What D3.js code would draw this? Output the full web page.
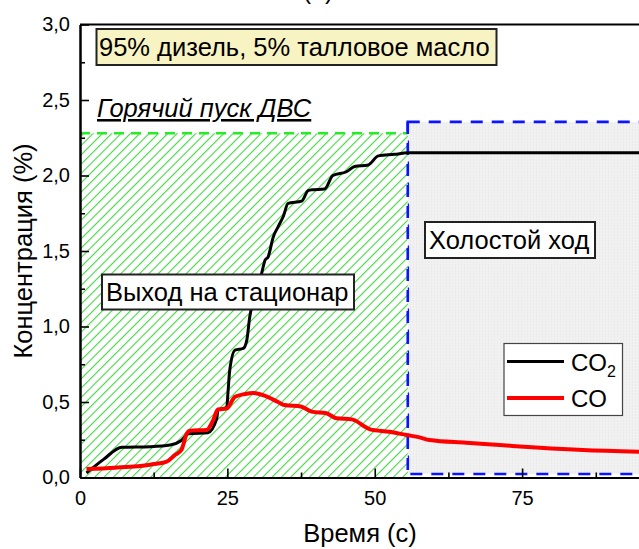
<!DOCTYPE html>
<html>
<head>
<meta charset="utf-8">
<script src="https://cdn.jsdelivr.net/npm/d3@7"></script>
<style>
  body { margin: 0; background: #fff; }
  svg { display: block; font-family: "Liberation Sans", Arial, sans-serif; }
</style>
</head>
<body>
<svg id="chart"></svg>
<script>
// CO2 curve (time, %)
var co2Time  = [1.1, 4, 7.1, 11.9, 15.3, 17.2, 18.4, 21.7, 23.2, 23.4, 24.9, 25.1, 25.4, 26.3, 27.7, 28.3, 28.8, 29.4, 30.8, 31.4, 31.9, 32.8, 33.6, 34.5, 35.3, 37.6, 38.7, 39.3, 41.5, 42.9, 45.2, 46.6, 48.9, 50.6, 53.4, 55.6, 95];
var co2Value = [0.03, 0.12, 0.20, 0.204, 0.215, 0.245, 0.29, 0.297, 0.39, 0.447, 0.465, 0.56, 0.71, 0.844, 0.855, 0.91, 1.065, 1.175, 1.35, 1.44, 1.46, 1.595, 1.66, 1.73, 1.815, 1.83, 1.90, 1.905, 1.91, 2.0, 2.025, 2.06, 2.07, 2.13, 2.14, 2.15, 2.15];

// CO curve (time, %)
var coTime  = [1.1, 5.9, 11.9, 14.7, 16.1, 17.2, 18.1, 18.6, 21.5, 22.6, 23.4, 24.9, 26.3, 28.0, 29.4, 31.4, 33.6, 34.7, 37.6, 39.3, 41.8, 43.5, 46.1, 49.2, 52.5, 55.4, 57.6, 59.3, 65.5, 71.2, 78.0, 85.3, 95];
var coValue = [0.056, 0.065, 0.085, 0.105, 0.149, 0.182, 0.29, 0.31, 0.315, 0.38, 0.45, 0.458, 0.535, 0.553, 0.56, 0.54, 0.50, 0.48, 0.469, 0.436, 0.425, 0.392, 0.385, 0.319, 0.303, 0.281, 0.266, 0.248, 0.23, 0.215, 0.197, 0.182, 0.171];

var xTicks = [0, 25, 50, 75];
var yTicks = [0, 0.5, 1.0, 1.5, 2.0, 2.5, 3.0];

// phase regions [x0, x1, y0, y1]
var hotStartRegion = [0, 55.6, 0, 2.28];
var idleRegion = [55.6, 100, 0.023, 2.355];

var W = 639, H = 549;
var margin = {top: 24.5, right: -1, bottom: 71.5, left: 80},
    width = W - margin.left - margin.right,
    height = H - margin.top - margin.bottom;

var fmt = function(d) { return d3.format(".1f")(d).replace(".", ","); };

var svg = d3.select("#chart").attr("width", W).attr("height", H);

var defs = svg.append("defs");
var hatch = defs.append("pattern")
    .attr("id", "hatch")
    .attr("patternUnits", "userSpaceOnUse")
    .attr("width", 6.6).attr("height", 6.6)
    .attr("patternTransform", "rotate(45)");
hatch.append("rect").attr("width", 6.6).attr("height", 6.6).attr("fill", "#fff");
hatch.append("line")
    .attr("x1", 0.5).attr("y1", 0).attr("x2", 0.5).attr("y2", 6.6)
    .attr("stroke", "#3ad83a").attr("stroke-width", 1.1);

var grid = defs.append("pattern")
    .attr("id", "gray")
    .attr("patternUnits", "userSpaceOnUse")
    .attr("width", 3).attr("height", 3);
grid.append("rect").attr("width", 3).attr("height", 3).attr("fill", "#f1f1f1");
grid.append("rect").attr("width", 1).attr("height", 1).attr("fill", "#e3e3e3");

var g = svg.append("g").attr("transform", "translate(" + margin.left + "," + margin.top + ")");

var x = d3.scaleLinear().domain([0, 95]).range([0, width]);
var y = d3.scaleLinear().domain([0, 3]).range([height, 0]);

// regions
g.append("rect")
    .attr("x", x(idleRegion[0])).attr("y", y(idleRegion[3]))
    .attr("width", x(idleRegion[1]) - x(idleRegion[0]))
    .attr("height", y(idleRegion[2]) - y(idleRegion[3]))
    .attr("fill", "url(#gray)")
    .attr("stroke", "#0a14ff").attr("stroke-width", 2.6)
    .attr("stroke-dasharray", "12,9");

g.append("rect")
    .attr("x", x(hotStartRegion[0])).attr("y", y(hotStartRegion[3]))
    .attr("width", x(hotStartRegion[1]) - x(hotStartRegion[0]))
    .attr("height", y(hotStartRegion[2]) - y(hotStartRegion[3]))
    .attr("fill", "url(#hatch)");
g.append("path")
    .attr("d", "M" + x(hotStartRegion[0]) + "," + y(hotStartRegion[3]) + "H" + x(hotStartRegion[1]))
    .attr("stroke", "#22ee22").attr("stroke-width", 2.4)
    .attr("stroke-dasharray", "10,7").attr("fill", "none");
g.append("path")
    .attr("d", "M" + x(hotStartRegion[1]) + "," + y(idleRegion[3]) + "V" + y(idleRegion[2]))
    .attr("stroke", "#0a14ff").attr("stroke-width", 2.6)
    .attr("stroke-dasharray", "12,9").attr("fill", "none");

// lines
var line = d3.line()
    .x(function(d) { return x(d[0]); })
    .y(function(d) { return y(d[1]); })
    .curve(d3.curveMonotoneX);

var co2Data = co2Time.map(function(t, i) { return [t, co2Value[i]]; });
var coData = coTime.map(function(t, i) { return [t, coValue[i]]; });

g.append("path").datum(co2Data)
    .attr("d", line).attr("fill", "none")
    .attr("stroke", "#000").attr("stroke-width", 3).attr("stroke-linejoin", "round");
g.append("path").datum(coData)
    .attr("d", line).attr("fill", "none")
    .attr("stroke", "#ff0000").attr("stroke-width", 4).attr("stroke-linejoin", "round");

// axes (ticks inside)
g.append("g")
    .attr("transform", "translate(0," + height + ")")
    .call(d3.axisBottom(x).tickValues(xTicks).tickSizeInner(-9).tickSizeOuter(0).tickPadding(13));
g.append("g")
    .attr("transform", "translate(0," + height + ")")
    .call(d3.axisBottom(x).tickValues(d3.range(12.5, 95, 25)).tickSizeInner(-5).tickSizeOuter(0).tickFormat(""));
g.append("g")
    .call(d3.axisLeft(y).tickValues(yTicks).tickFormat(fmt).tickSizeInner(-9).tickSizeOuter(0).tickPadding(10));
g.append("g")
    .call(d3.axisLeft(y).tickValues(d3.range(0.25, 3, 0.5)).tickSizeInner(-5).tickSizeOuter(0).tickFormat(""));
g.append("line")
    .attr("x1", 0).attr("x2", width).attr("y1", 0).attr("y2", 0)
    .attr("stroke", "#000").attr("stroke-width", 2);

g.selectAll(".domain").attr("stroke", "#000").attr("stroke-width", 2);
g.selectAll(".tick line").attr("stroke", "#000").attr("stroke-width", 1.6);
g.selectAll(".tick text")
    .style("font-size", "20px")
    .style("font-family", "'Liberation Sans', Arial, sans-serif")
    .attr("fill", "#000");

// axis titles
svg.append("text")
    .attr("x", 360).attr("y", 542)
    .attr("text-anchor", "middle")
    .style("font-size", "25.5px")
    .text("Время (с)");
svg.append("text")
    .attr("transform", "translate(32," + (margin.top + height / 2) + ") rotate(-90)")
    .attr("text-anchor", "middle")
    .style("font-size", "25.5px")
    .text("Концентрация (%)");

// panel label, cut off at the top like the source figure
svg.append("text")
    .attr("x", 318).attr("y", -1)
    .attr("text-anchor", "middle")
    .style("font-size", "25px")
    .text("(а)");

// annotation boxes
function labelBox(x0, y0, w, h, fill, txt, tx, ty) {
    svg.append("rect")
        .attr("x", x0).attr("y", y0).attr("width", w).attr("height", h)
        .attr("fill", fill).attr("stroke", "#222").attr("stroke-width", 2);
    svg.append("text")
        .attr("x", tx).attr("y", ty)
        .style("font-size", "25.5px")
        .text(txt);
}
labelBox(96.5, 29, 400, 36, "#f8f3c3", "95% дизель, 5% талловое масло", 99, 55.5);
labelBox(102, 274.5, 252, 35, "#fff", "Выход на стационар", 106, 300.5);
labelBox(425, 222, 170, 36, "#fff", "Холостой ход", 429, 248.5);

svg.append("text")
    .attr("x", 97).attr("y", 117)
    .style("font-size", "25.5px")
    .style("font-style", "italic")
    .style("text-decoration", "underline")
    .text("Горячий пуск ДВС");

// legend
var legend = svg.append("g");
legend.append("rect")
    .attr("x", 504).attr("y", 343.5).attr("width", 118.5).attr("height", 72)
    .attr("fill", "#fff").attr("stroke", "#444").attr("stroke-width", 1.2);
var legendItems = [{name: "CO", sub: "2", color: "#000", w: 3}, {name: "CO", sub: "", color: "#ff0000", w: 4}];
legendItems.forEach(function(d, i) {
    var ly = 361.5 + i * 36.5;
    legend.append("line")
        .attr("x1", 507).attr("x2", 564).attr("y1", ly).attr("y2", ly)
        .attr("stroke", d.color).attr("stroke-width", d.w);
    var t = legend.append("text")
        .attr("x", 571).attr("y", ly + 9)
        .style("font-size", "24px")
        .text(d.name);
    if (d.sub) {
        t.append("tspan").attr("dy", 6).style("font-size", "16px").text(d.sub);
    }
});
</script>
</body>
</html>
